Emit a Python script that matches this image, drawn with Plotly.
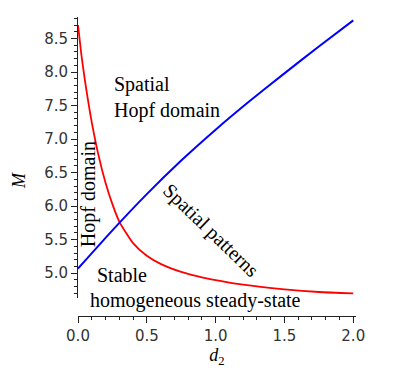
import numpy as np
import plotly.graph_objects as go

# boundary curves (d2 vs M)
red_d2 = [0.0, 0.025, 0.05, 0.075, 0.1, 0.15, 0.2, 0.25, 0.3, 0.4, 0.5, 0.6, 0.75, 0.9, 1.2, 1.5, 1.75, 2.0]
red_M = [8.70, 8.25, 7.88, 7.55, 7.25, 6.75, 6.35, 6.03, 5.77, 5.45, 5.26, 5.14, 5.02, 4.94, 4.83, 4.76, 4.72, 4.70]

blue_d2 = [0.0, 0.25, 0.5, 0.75, 1.0, 1.25, 1.5, 1.75, 2.0]
blue_M = [5.07, 5.64, 6.18, 6.68, 7.14, 7.57, 7.98, 8.38, 8.77]

x_ticks = [0.0, 0.5, 1.0, 1.5, 2.0]
y_ticks = [5.0, 5.5, 6.0, 6.5, 7.0, 7.5, 8.0, 8.5]

serif = "Liberation Serif, Times New Roman, serif"
sans = "DejaVu Sans, sans-serif"

fig = go.Figure()
fig.add_trace(go.Scatter(x=red_d2, y=red_M, mode="lines",
                         line=dict(color="#ff0000", width=1.8, shape="spline", smoothing=0.6)))
fig.add_trace(go.Scatter(x=blue_d2, y=blue_M, mode="lines",
                         line=dict(color="#0000ff", width=2, shape="spline", smoothing=0.6)))

txt = dict(font=dict(family=serif, size=20, color="black"), showarrow=False, xref="x", yref="y")

fig.update_layout(
    width=402, height=376,
    margin=dict(l=78, r=46, t=17, b=60),
    paper_bgcolor="white", plot_bgcolor="white",
    showlegend=False,
    xaxis=dict(
        range=[0, 2.02], anchor="free", position=0, automargin=False,
        tickvals=x_ticks, ticktext=[f"{v:.1f}" for v in x_ticks],
        ticks="outside", ticklen=6, tickwidth=1, tickcolor="#222",
        minor=dict(dtick=0.1, tick0=0, ticks="outside", ticklen=3, tickcolor="#222"),
        showline=True, linecolor="#222", linewidth=1,
        showgrid=False, zeroline=False,
        tickfont=dict(family=sans, size=15, color="#333"),
        title=dict(text="<i>d</i><sub>2</sub>", font=dict(family=serif, size=18, color="black"), standoff=4),
    ),
    yaxis=dict(
        range=[4.63, 8.82], domain=[0.06, 1], automargin=False,
        tickvals=y_ticks, ticktext=[f"{v:.1f}" for v in y_ticks],
        ticks="outside", ticklen=6, tickwidth=1, tickcolor="#222",
        minor=dict(dtick=0.1, tick0=0, ticks="outside", ticklen=3, tickcolor="#222"),
        showline=True, linecolor="#222", linewidth=1,
        showgrid=False, zeroline=False,
        tickfont=dict(family=sans, size=15, color="#333"),
    ),
    annotations=[
        dict(text="<i>M</i>", x=-0.212, y=0.452, xref="paper", yref="paper", textangle=-90,
             xanchor="center", yanchor="middle",
             showarrow=False, font=dict(family=serif, size=18, color="black")),
        dict(txt, text="Spatial<br>Hopf domain", x=0.247, y=7.62, xanchor="left", align="left"),
        dict(txt, text="Hopf domain", x=0.073, y=6.18, textangle=-90),
        dict(txt, text="Spatial patterns", x=0.967, y=5.64, textangle=44),
        dict(txt, text="Stable", x=0.124, y=4.97, xanchor="left"),
        dict(txt, text="homogeneous steady-state", x=0.073, y=0.0535, yref="paper",
             xanchor="left", yanchor="middle"),
    ],
)

# drop the page's default body margin so the figure sits at the window's corner
fig.write_html("out.html", config={"displayModeBar": False},
               post_script="document.body.style.margin='0px';")
